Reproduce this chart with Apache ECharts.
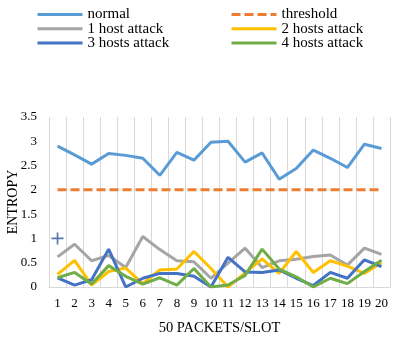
<!DOCTYPE html>
<html>
<head>
<meta charset="utf-8">
<script src="https://cdn.jsdelivr.net/npm/echarts@6/dist/echarts.min.js"></script>
<style>
  html, body { margin: 0; padding: 0; background: #fff; }
  #chart { width: 401px; height: 344px; }
</style>
</head>
<body>
<div id="chart"></div>
<script>
// packet slots 1..20
var slots = ["1","2","3","4","5","6","7","8","9","10","11","12","13","14","15","16","17","18","19","20"];
var yTicks = [0, 0.5, 1, 1.5, 2, 2.5, 3, 3.5];

var normal    = [2.90, 2.72, 2.53, 2.75, 2.71, 2.65, 2.30, 2.77, 2.61, 2.98, 3.00, 2.57, 2.76, 2.22, 2.44, 2.82, 2.65, 2.46, 2.94, 2.85];
var threshold = [2, 2, 2, 2, 2, 2, 2, 2, 2, 2, 2, 2, 2, 2, 2, 2, 2, 2, 2, 2];
var host1     = [0.62, 0.88, 0.54, 0.65, 0.40, 1.04, 0.77, 0.54, 0.52, 0.18, 0.49, 0.80, 0.40, 0.54, 0.57, 0.63, 0.66, 0.45, 0.80, 0.67];
var host2     = [0.26, 0.55, 0.04, 0.32, 0.39, 0.07, 0.35, 0.37, 0.73, 0.38, 0.00, 0.29, 0.58, 0.28, 0.73, 0.30, 0.54, 0.43, 0.28, 0.50];
var host3     = [0.19, 0.04, 0.15, 0.78, 0.00, 0.18, 0.28, 0.28, 0.22, 0.00, 0.61, 0.31, 0.30, 0.35, 0.18, 0.03, 0.30, 0.18, 0.56, 0.42];
var host4     = [0.19, 0.30, 0.06, 0.44, 0.22, 0.06, 0.19, 0.04, 0.38, 0.00, 0.04, 0.24, 0.78, 0.37, 0.21, 0.00, 0.18, 0.07, 0.32, 0.55];
// stray "+" marker in the picture
var crossMark = [["1", 1]];

var font = "'Liberation Serif', 'Times New Roman', serif";

function lineSeries(name, data, color, dashed) {
  return {
    name: name,
    type: "line",
    data: data,
    symbol: "none",
    smooth: false,
    lineStyle: { color: color, width: 3, type: dashed ? [9, 4] : "solid" },
    itemStyle: { color: color },
    z: 3
  };
}

var chart = echarts.init(document.getElementById("chart"));
var legendText = { fontFamily: font, fontSize: 15, color: "#000", lineHeight: 13, padding: [0, 0, 0, 0] };
var legendBase = {
  orient: "vertical", top: 2,
  itemWidth: 45, itemHeight: 12, itemGap: -0.8,
  itemStyle: { opacity: 0 },
  lineStyle: { width: 3 },
  textStyle: legendText
};
chart.setOption({
  animation: false,
  textStyle: { fontFamily: font },
  legend: [
    Object.assign({}, legendBase, { left: 31, data: ["normal", "1 host attack", "3 hosts attack"] }),
    Object.assign({}, legendBase, { left: 225, data: ["threshold", "2 hosts attack", "4 hosts attack"] })
  ],
  grid: { left: 49, right: 11, top: 117, bottom: 57, containLabel: false, outerBoundsMode: "none" },
  xAxis: {
    type: "category",
    data: slots,
    boundaryGap: true,
    name: "50 PACKETS/SLOT",
    nameLocation: "middle",
    nameGap: 34,
    nameMoveOverlap: false,
    nameTextStyle: { fontFamily: font, fontSize: 14.5, color: "#000" },
    axisLine: { lineStyle: { color: "#D9D9D9", width: 1 } },
    axisTick: { show: false },
    axisLabel: { interval: 0, fontFamily: font, fontSize: 13, color: "#000", margin: 10 },
    splitLine: { show: true, interval: 0, lineStyle: { color: "#D9D9D9", width: 1 } }
  },
  yAxis: {
    type: "value",
    min: yTicks[0],
    max: yTicks[yTicks.length - 1],
    interval: 0.5,
    name: "ENTROPY",
    nameLocation: "middle",
    nameGap: 29,
    nameMoveOverlap: false,
    nameTextStyle: { fontFamily: font, fontSize: 14, color: "#000" },
    axisLine: { show: false },
    axisTick: { show: false },
    splitLine: { show: false },
    axisLabel: { fontFamily: font, fontSize: 13, color: "#000", margin: 12 }
  },
  series: [
    lineSeries("normal", normal, "#5B9BD5"),
    lineSeries("threshold", threshold, "#ED7D31", true),
    lineSeries("1 host attack", host1, "#A5A5A5"),
    lineSeries("2 hosts attack", host2, "#FFC000"),
    lineSeries("3 hosts attack", host3, "#4472C4"),
    lineSeries("4 hosts attack", host4, "#70AD47"),
    {
      name: "mark",
      type: "scatter",
      data: crossMark,
      symbol: "path://M4.3,0H5.7V10H4.3Z M0,4.3H10V5.7H0Z",
      symbolSize: 12,
      itemStyle: { color: "#2F5597" },
      z: 5
    }
  ]
});
</script>
</body>
</html>
